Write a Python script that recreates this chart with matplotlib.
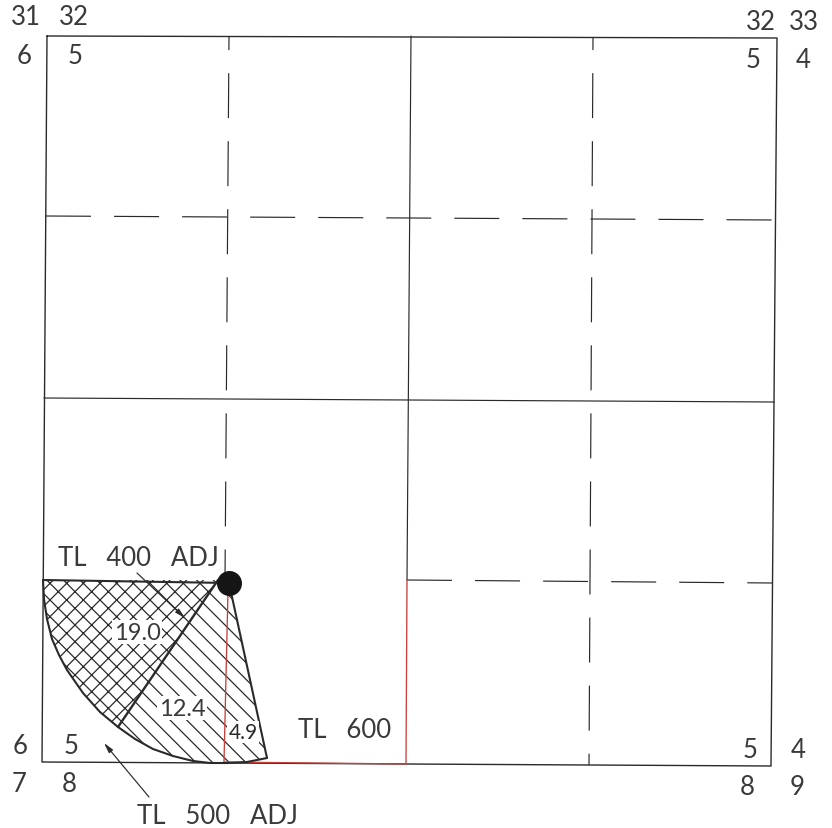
import matplotlib
matplotlib.use("Agg")
import matplotlib.pyplot as plt
from matplotlib.patches import Polygon

plt.rcParams['lines.scale_dashes'] = False
plt.rcParams['hatch.linewidth'] = 0.9
plt.rcParams['hatch.color'] = '#222222'
plt.rcParams['font.family'] = ['Lato', 'Liberation Sans', 'DejaVu Sans']

W, H = 832, 829
INK = '#2a2a2a'
TEXT = '#3a3a3a'
RED = '#c8403a'

# map outline and section lines (image pixels)
section_outline = [(47, 37), (777, 39), (771, 767), (42, 763), (47, 37)]
solid_lines = [
    [(411, 37), (407, 581)],
    [(44, 399), (774, 403)],
]
dashed_horizontal = [
    [(46, 217), (775, 221)],
    [(407, 581), (772, 584)],
]
dashed_vertical = [
    [(229, 38), (225, 581)],
    [(593, 38), (589, 766)],
]
red_lines = [
    [(228, 592), (224, 763)],
    [(224, 763), (406, 765), (407, 581)],
]

# drainage shapes
well = (229, 584)
tl400_corner = (43, 581)
arc_points = [(43, 581), (44, 600), (47, 620), (52, 640), (59, 656), (67, 671),
              (83, 694), (100, 713), (118, 728), (135, 740), (153, 750), (173, 757),
              (193, 762), (210, 764), (227, 764), (247, 763), (267, 759)]
divider_top = (218, 581)
divider_bottom = (118, 728)
arc_inner = arc_points[:9]
arc_outer = arc_points[8:]

# labels
corner_labels = [
    ('31', 26, 17), ('32', 74, 17), ('6', 24, 56), ('5', 75, 56),
    ('32', 761, 22), ('33', 804, 22), ('5', 753, 60), ('4', 803, 60),
    ('6', 20, 746), ('5', 71, 746), ('7', 19, 785), ('8', 69, 785),
    ('5', 750, 750), ('4', 798, 750), ('8', 747, 788), ('9', 797, 788),
]
notes = [('TL   400   ADJ', 138, 558), ('TL   600', 345, 731), ('TL   500   ADJ', 217, 817)]
acreage = [('19.0', 137, 633), ('12.4', 182, 709)]
small_acreage = [('4.9', 243, 733)]
leaders = [((137, 574), (185, 619)), ((149, 798), (104, 744))]

fig = plt.figure(figsize=(W / 100, H / 100), dpi=100)
ax = fig.add_axes([0, 0, 1, 1])
ax.set_xlim(0, W)
ax.set_ylim(H, 0)
ax.axis('off')


def draw_line(points, color=INK, lw=0.85, **kw):
    ax.plot([p[0] for p in points], [p[1] for p in points], color=color, lw=lw,
            solid_capstyle='round', solid_joinstyle='round', **kw)


# hatched areas first, everything else goes on top
ax.add_patch(Polygon(arc_inner + [divider_top], closed=True, facecolor='white',
                     edgecolor=INK, hatch='xx', lw=0, zorder=2))
ax.add_patch(Polygon(arc_outer + [well, divider_top], closed=True, facecolor='white',
                     edgecolor=INK, hatch='\\\\', lw=0, zorder=2))

draw_line(section_outline, lw=1.0)
for line in solid_lines:
    draw_line(line)
# 45 px dash, 23 px gap
for line in dashed_horizontal:
    draw_line(line, linestyle=(0, (32.4, 16.6)))
for line in dashed_vertical:
    draw_line(line, linestyle=(23, (32.4, 16.6)))
for line in red_lines:
    draw_line(line, color=RED, lw=0.95, zorder=3)

# heavy boundaries of the drainage
draw_line(arc_points, lw=1.5, zorder=4)
draw_line([tl400_corner, well], lw=1.5, zorder=4)
draw_line([divider_top, divider_bottom], lw=1.7, zorder=4)
draw_line([arc_points[-1], well], lw=1.5, zorder=4)
ax.plot([well[0]], [well[1]], 'o', color='#151515', ms=18, mew=0, zorder=5)

for start, end in leaders:
    ax.annotate('', xy=end, xytext=start, zorder=6,
                arrowprops=dict(arrowstyle='-|>,head_length=0.6,head_width=0.15',
                                color=INK, lw=0.85, shrinkA=0, shrinkB=0))

for label, x, y in corner_labels + notes:
    ax.text(x, y, label, fontsize=18.5, color=TEXT, ha='center', va='center', zorder=7)
for label, x, y in acreage:
    ax.text(x, y, label, fontsize=17, color=TEXT, ha='center', va='center', zorder=7,
            bbox=dict(facecolor='white', edgecolor='none', pad=1))
for label, x, y in small_acreage:
    ax.text(x, y, label, fontsize=15, color=INK, ha='center', va='center', zorder=7,
            bbox=dict(facecolor='white', edgecolor='none', pad=1))

fig.savefig('out.png', dpi=100)
